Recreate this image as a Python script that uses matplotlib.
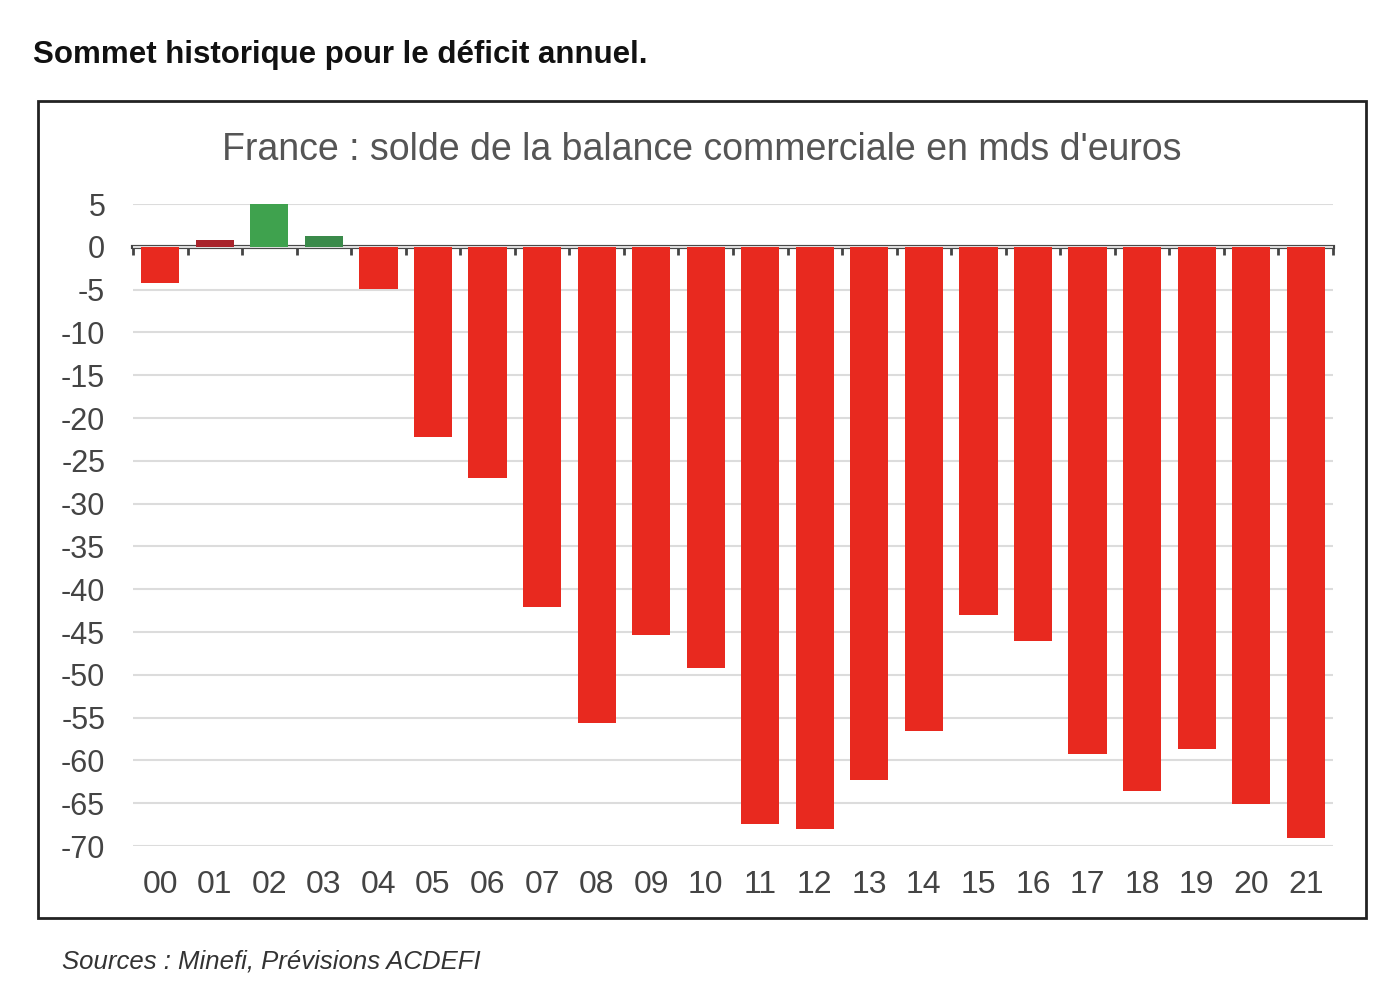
import numpy as np
import matplotlib.pyplot as plt
from matplotlib.patches import Rectangle

# donnees (mds d'euros)
annees = ["00", "01", "02", "03", "04", "05", "06", "07", "08", "09", "10",
          "11", "12", "13", "14", "15", "16", "17", "18", "19", "20", "21"]
solde = [-4.2, 0.8, 5.0, 1.3, -4.9, -22.2, -27.0, -42.1, -55.6, -45.3, -49.2,
         -67.4, -68.0, -62.3, -56.6, -43.0, -46.0, -59.2, -63.6, -58.7, -65.1, -69.1]
couleurs = ["#e8291f", "#a8232b", "#3fa24e", "#3a8a4a"] + ["#e8291f"] * 18
yticks = list(range(5, -75, -5))

plt.rcParams['font.family'] = ['Liberation Sans', 'DejaVu Sans']

fig = plt.figure(figsize=(13.82, 9.86), dpi=100)
ax = fig.add_axes([133 / 1382, 1 - 846 / 986, 1200 / 1382, (846 - 204) / 986])

x = np.arange(len(annees))
ax.bar(x, solde, width=0.7, color=couleurs, zorder=3)

ax.set_xlim(-0.5, len(annees) - 0.5)
ax.set_ylim(-70, 5)
ax.set_yticks(yticks)
ax.set_yticklabels([str(v) for v in yticks])
ax.yaxis.grid(True, color="#dcdcdc", linewidth=1.5, zorder=0)
ax.set_xticks(x)
ax.set_xticklabels(annees)
ax.tick_params(axis="x", length=0, pad=17, labelsize=23, labelcolor="#444444")
ax.tick_params(axis="y", length=0, pad=20, labelsize=22, labelcolor="#444444")
for s in ax.spines.values():
    s.set_visible(False)

# axe du zero avec petites graduations
sec = ax.secondary_xaxis(0, transform=ax.transData)
sec.set_xticks(np.arange(-0.5, len(annees), 1.0))
sec.set_xticklabels([])
sec.tick_params(axis="x", direction="out", length=6, width=2, color="#444444")
sec.spines["bottom"].set_color("#444444")
sec.spines["bottom"].set_linewidth(3)

ax.set_title("France : solde de la balance commerciale en mds d'euros",
             fontsize=27, color="#555555", pad=32, x=0.474)

# cadre
fig.patches.append(Rectangle((38 / 1382, 1 - 918 / 986), (1366 - 38) / 1382,
                             (918 - 101) / 986, transform=fig.transFigure,
                             fill=False, edgecolor="#222222", linewidth=2))

fig.text(33 / 1382, 1 - 55 / 986, "Sommet historique pour le déficit annuel.",
         fontsize=22.5, fontweight="bold", color="#111111", va="center")
fig.text(62 / 1382, 1 - 962 / 986, "Sources : Minefi, Prévisions ACDEFI",
         fontsize=18.5, style="italic", color="#333333", va="center")

fig.savefig("out.png", dpi=100)
